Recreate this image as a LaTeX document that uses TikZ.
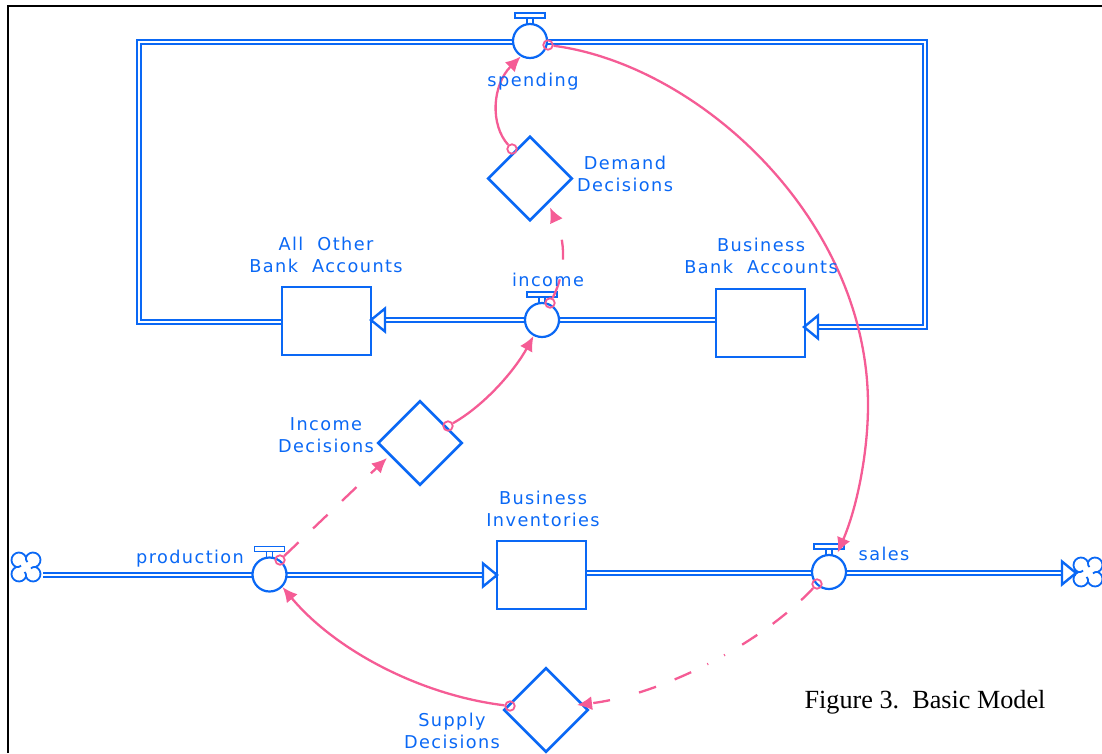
\documentclass[tikz,border=0pt]{standalone}
\usepackage{fontspec}
\setmainfont{DejaVu Sans}[LetterSpace=8]
\newfontfamily\capfont{Liberation Serif}
\usetikzlibrary{arrows.meta,calc,shapes.geometric}
\definecolor{flow}{HTML}{0A68F5}
\definecolor{link}{HTML}{F55C95}
\tikzset{
  x=1pt,y=-1pt,
  stockbox/.style={draw=flow,line width=2pt,fill=white,minimum width=89pt,minimum height=68pt,inner sep=0pt},
  decision/.style={draw=flow,line width=2.6pt,fill=white,shape=diamond,minimum width=84.5pt,minimum height=84.5pt,inner sep=0pt},
  valve/.style={draw=flow,line width=2.2pt,fill=white,circle,minimum size=34pt,inner sep=0pt},
  cloudbox/.style={minimum size=30pt,inner sep=0pt},
  pipe/.style={draw=flow,line width=1.9pt,double=white,double distance=1.5pt},
  ring/.style={draw=link,line width=1.8pt,circle,minimum size=9.5pt,inner sep=0pt},
  conn/.style={draw=link,line width=2.3pt,-{Latex[length=15pt,width=14pt]}},
  dashA/.style={dash pattern=on 20pt off 20pt},
  dashB/.style={dash pattern=on 17pt off 19pt on 18pt off 19pt on 18pt off 20pt on 1pt off 18pt on 1pt off 18pt on 18pt off 20pt on 18pt off 30pt},
  lab/.style={text=flow,font=\fontsize{17.7}{22}\selectfont,align=center,inner sep=0pt},
  captext/.style={text=black,font=\capfont\fontsize{26.2}{30}\selectfont,inner sep=0pt},
  handle/.pic={
    \draw[flow,line width=1.7pt,fill=white] (-15,-28) rectangle (15,-23);
    \draw[flow,line width=1.7pt] (-3,-23) -- (-3,-17) (3,-23) -- (3,-17);
  },
  openhead/.pic={
    \draw[flow,line width=2.4pt,fill=white,line join=miter] (0,0) -- (14,-11.5) -- (14,11.5) -- cycle;
  },
  cloudglyph/.pic={
    \draw[flow,line width=1.8pt]
      (-7,-7) ++(110:7.5) arc[start angle=110,end angle=340,radius=7.5]
      (7,-7) ++(200:7.5) arc[start angle=200,end angle=430,radius=7.5]
      (7,7) ++(290:7.5) arc[start angle=290,end angle=520,radius=7.5]
      (-7,7) ++(20:7.5) arc[start angle=20,end angle=250,radius=7.5]
      (0,-9.6) .. controls (0,-6.5) .. (1.5,-5)
      (9.6,0) .. controls (6.5,0) .. (5,1.5)
      (0,9.6) .. controls (0,6.5) .. (-1.5,5)
      (-9.6,0) .. controls (-6.5,0) .. (-5,-1.5);
  }
}
\begin{document}
\begin{tikzpicture}
\useasboundingbox (0,0) rectangle (1102,753);
\draw[black,line width=2pt] (8,753) -- (8,5.5) -- (1102,5.5);

% nodes
\coordinate (tl) at (139,42);
\coordinate (bl) at (139,322);
\coordinate (tr) at (925,42);
\coordinate (br) at (925,327);
\coordinate (headA) at (371,320);
\coordinate (headB) at (804,327);
\coordinate (headC) at (497,575);
\coordinate (headD) at (1076,573);

% pipes
\path[pipe] (530,42) -| (bl) -- (282,322);
\path[pipe] (530,42) -| (br) -- (headB);
\path[pipe] (716,320) -- (headA);
\path[pipe] (43,575) -- (headC);
\path[pipe] (586,573) -- (headD);

\node[stockbox] (allother) at (326.5,321) {};
\node[stockbox] (bizbank) at (760,323) {};
\node[stockbox] (inv) at (541.5,575) {};
\node[decision] (demand) at (530,178.5) {};
\node[decision] (incomedec) at (420,443) {};
\node[decision] (supply) at (546,710) {};
\node[valve] (spending) at (530,41) {};
\node[valve] (income) at (542,320) {};
\node[valve] (production) at (269.5,574.5) {};
\node[valve] (sales) at (829,572) {};
\node[cloudbox] (src) at (26,567) {};
\node[cloudbox] (snk) at (1088,572) {};
\pic at (spending) {handle};
\pic at (income) {handle};
\pic at (production) {handle};
\pic at (sales) {handle};
\pic at (src) {cloudglyph};
\pic at (snk) {cloudglyph};
\pic at (headA) {openhead};
\pic at (headB) {openhead};
\pic[rotate=180] at (headC) {openhead};
\pic[rotate=180] at (headD) {openhead};

% connector rings
\node[ring] (r1) at (512,149) {};
\node[ring] (r2) at (548,45) {};
\node[ring] (r3) at (550,303) {};
\node[ring] (r4) at (448,426) {};
\node[ring] (r5) at (280,560) {};
\node[ring] (r6) at (510,706) {};
\node[ring] (r7) at (817,584) {};

% connectors
\draw[conn] (r1) .. controls (490,125) and (492,85) .. (spending.239);
\draw[conn] (r2) .. controls (700,65) and (868,220) .. (868,405) .. controls (868,450) and (858,505) .. ([shift={(1,-3)}]sales.65);
\draw[conn,dashA] (r3) .. controls (567,270) and (565,240) .. ([shift={(20,29)}]demand.center);
\draw[conn] (r4) .. controls (485,405) and (515,370) .. (income.242);
\draw[conn,dashA] (r5) -- ([shift={(-33,15)}]incomedec.center);
\draw[conn] (r6) .. controls (420,695) and (335,650) .. (production.-44);
\draw[conn,dashB] (r7) .. controls (760,645) and (660,695) .. ([shift={(31,-5)}]supply.center);

% labels
\node[lab] (t1) at (533,82) {spending};
\node[lab] (t2) at (625,174) {Demand\\Decisions};
\node[lab] (t3) at (326,254.5) {All\ \ Other\\Bank\ \ Accounts};
\node[lab] (t4) at (761,256) {Business\\Bank\ \ Accounts};
\node[lab] (t5) at (548,280) {income};
\node[lab] (t6) at (326,435) {Income\\Decisions};
\node[lab] (t7) at (190,558.5) {production};
\node[lab] (t8) at (543,509) {Business\\Inventories};
\node[lab] (t9) at (884,554) {sales};
\node[lab] (t10) at (452,731) {Supply\\Decisions};
\node[captext] (t11) at (925,702) {Figure 3.\ \ Basic Model};
\end{tikzpicture}
\end{document}
